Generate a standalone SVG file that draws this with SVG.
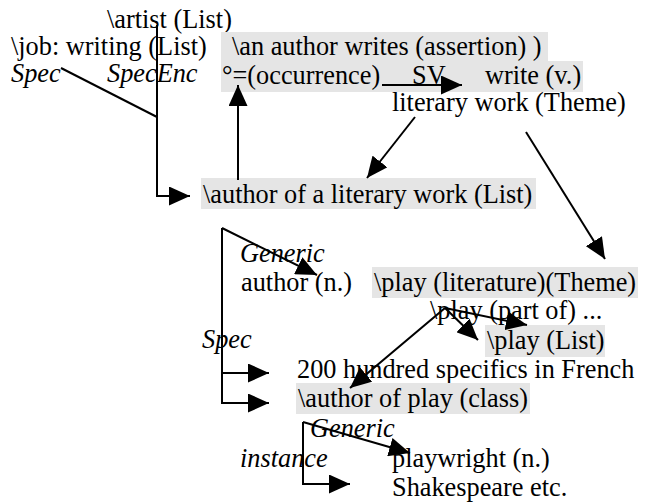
<svg xmlns="http://www.w3.org/2000/svg" width="650" height="502" viewBox="0 0 650 502">
<style>
text{font-size:26.3px;fill:#000}
.i{font-style:italic}
.bg{fill:#e5e5e5}
.c{fill:none;stroke:#000;stroke-width:2}
</style>
<defs>
<marker id="ah" markerUnits="userSpaceOnUse" markerWidth="21" markerHeight="19" refX="21" refY="9.5" orient="auto"><path d="M0,0 L21,9.5 L0,19 z" fill="#000"/></marker>
</defs>
<rect width="650" height="502" fill="#fff"/>
<g font-family="'Liberation Serif', 'Times New Roman', Times, serif">
<g id="n-artist"><text x="107" y="28">\artist (List)</text></g>
<g id="n-job"><text x="11" y="55">\job: writing (List)</text></g>
<g id="l-spec1"><text class="i" x="11" y="82">Spec</text></g>
<g id="l-specenc"><text class="i" x="107" y="82">SpecEnc</text></g>
<g id="n-assertion"><rect class="bg" x="221" y="32" width="327" height="29"/><text x="232" y="55">\an author writes (assertion) )</text></g>
<g id="n-occurrence"><rect class="bg" x="221" y="61" width="362" height="31"/><text x="222" y="84">°=(occurrence)</text><text x="412" y="84">SV</text><text x="485" y="84">write (v.)</text></g>
<g id="n-literary"><text x="392" y="111">literary work (Theme)</text></g>
<g id="n-authorlit"><rect class="bg" x="201" y="178" width="335" height="31"/><text x="203" y="203">\author of a literary work (List)</text></g>
<g id="l-generic1"><text class="i" x="240" y="262">Generic</text></g>
<g id="n-authorn"><text x="241" y="291">author (n.)</text></g>
<g id="n-playlit"><rect class="bg" x="372" y="267" width="266" height="31"/><text x="374" y="291">\play (literature)(Theme)</text></g>
<g id="n-playpart"><text x="430" y="319">\play (part of) ...</text></g>
<g id="n-playlist"><rect class="bg" x="485" y="325" width="120" height="32"/><text x="487" y="349">\play (List)</text></g>
<g id="l-spec2"><text class="i" x="202" y="348">Spec</text></g>
<g id="n-200"><text x="297" y="378">200 hundred specifics in French</text></g>
<g id="n-authorplay"><rect class="bg" x="296" y="383" width="234" height="31"/><text x="298" y="407">\author of play (class)</text></g>
<g id="l-generic2"><text class="i" x="310" y="437">Generic</text></g>
<g id="l-instance"><text class="i" x="240" y="467">instance</text></g>
<g id="n-playwright"><text x="392" y="467">playwright (n.)</text></g>
<g id="n-shakespeare"><text x="392" y="496">Shakespeare etc.</text></g>
</g>
<g id="connectors">
<path class="c" d="M61,68 L157,117"/>
<path class="c" d="M157,25 L157,196 L190,196" marker-end="url(#ah)"/>
<path class="c" d="M238,180 L238,85" marker-end="url(#ah)"/>
<path class="c" d="M382,85 L462,85" marker-end="url(#ah)"/>
<path class="c" d="M415,117 L367,178" marker-end="url(#ah)"/>
<path class="c" d="M526,132 L605,259" marker-end="url(#ah)"/>
<path class="c" d="M222,228 L317,275" marker-end="url(#ah)"/>
<path class="c" d="M222,228 L222,403 L269,403" marker-end="url(#ah)"/>
<path class="c" d="M222,373 L269,373" marker-end="url(#ah)"/>
<path class="c" d="M445,308 L350,388" marker-end="url(#ah)"/>
<path class="c" d="M445,308 L478,340" marker-end="url(#ah)"/>
<path class="c" d="M445,308 L527,325" marker-end="url(#ah)"/>
<path class="c" d="M303,422 L303,484 L350,484" marker-end="url(#ah)"/>
<path class="c" d="M303,422 L410,453" marker-end="url(#ah)"/>
</g>
</svg>
